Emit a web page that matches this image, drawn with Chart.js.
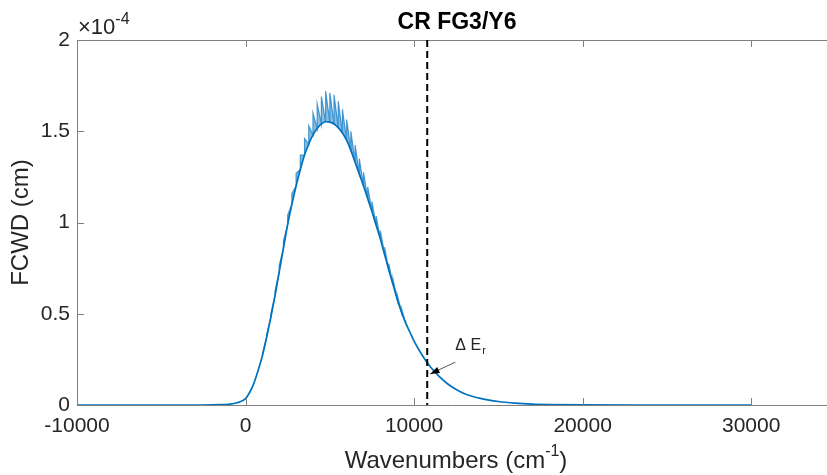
<!DOCTYPE html>
<html>
<head>
<meta charset="utf-8">
<script src="https://cdn.jsdelivr.net/npm/chart.js@4.4.1/dist/chart.umd.min.js"></script>
<style>
  html, body { margin: 0; padding: 0; background: #fff; }
  #wrap { width: 827px; height: 475px; }
</style>
</head>
<body>
<div id="wrap"><canvas id="fcwdChart" width="827" height="475"></canvas></div>
<script>
// values, FCWD in units of 1e-4 cm
const wavenumbers = [-10000, -3000, -2000, -1500, -1000, -500, 0, 250, 500, 750,
  1000, 1250, 1500, 1750, 2000, 2250, 2500, 2750, 3000, 3250, 3500, 3750, 4000, 4250,
  4500, 4750, 5000, 5250, 5500, 5750, 6000, 6250, 6500, 6750, 7000, 7250, 7500, 7750,
  8000, 8250, 8500, 8750, 9000, 9250, 9500, 9750, 10000, 10500, 11000, 11500, 12000,
  12500, 13000, 14000, 15000, 16000, 17000, 18000, 20000, 25000, 30000];
const fcwd = [0, 0, 0.001, 0.002, 0.004, 0.012, 0.035, 0.07, 0.12, 0.19,
  0.27, 0.37, 0.48, 0.60, 0.73, 0.86, 0.99, 1.10, 1.20, 1.29, 1.37, 1.43, 1.48, 1.515,
  1.54, 1.552, 1.55, 1.54, 1.52, 1.49, 1.45, 1.395, 1.33, 1.265, 1.20, 1.13, 1.06, 0.985,
  0.91, 0.825, 0.74, 0.66, 0.58, 0.51, 0.45, 0.40, 0.35, 0.27, 0.205, 0.155, 0.115,
  0.085, 0.062, 0.035, 0.019, 0.010, 0.005, 0.0025, 0.0006, 0, 0];

// oscillation tops over the central band (same wavenumbers, 1000 .. 9500)
const spikeWavenumbers = [1000, 1250, 1500, 1750, 2000, 2250, 2500, 2750, 3000, 3250,
  3500, 3750, 4000, 4250, 4500, 4750, 5000, 5250, 5500, 5750, 6000, 6250, 6500, 6750,
  7000, 7250, 7500, 7750, 8000, 8250, 8500, 8750, 9000, 9250, 9500];
const spikeTops = [0.28, 0.385, 0.50, 0.625, 0.765, 0.90, 1.04, 1.16, 1.27, 1.37,
  1.46, 1.53, 1.60, 1.65, 1.69, 1.72, 1.71, 1.70, 1.665, 1.62, 1.565, 1.50, 1.425, 1.35,
  1.275, 1.195, 1.115, 1.035, 0.955, 0.865, 0.775, 0.69, 0.605, 0.53, 0.465];

const xTicks = [-10000, 0, 10000, 20000, 30000];
const yTicks = [0, 0.5, 1, 1.5, 2];
const cutoffWavenumber = 10780;

const FONT = "'Liberation Sans', Arial, Helvetica, sans-serif";
const AXIS_GRAY = '#808080';
const TEXT = '#262626';
const BLUE = '#0072BD';

const mainPoints = wavenumbers.map((w, i) => ({ x: w, y: fcwd[i] }));
const spikePoints = [];
spikeWavenumbers.forEach((w, i) => {
    const lo = fcwd[wavenumbers.indexOf(w)];
    spikePoints.push({ x: w, y: lo });
    spikePoints.push({ x: w, y: spikeTops[i] });
});

const matlabAxes = {
    id: 'matlabAxes',
    afterDraw(chart) {
        const { ctx, chartArea: a, scales: { x, y } } = chart;
        ctx.save();

        // top box line and inward ticks
        ctx.strokeStyle = AXIS_GRAY;
        ctx.lineWidth = 1;
        ctx.beginPath();
        ctx.moveTo(a.left, a.top + 0.5);
        ctx.lineTo(a.right, a.top + 0.5);
        xTicks.forEach(v => {
            const px = Math.round(x.getPixelForValue(v)) + 0.5;
            ctx.moveTo(px, a.bottom);
            ctx.lineTo(px, a.bottom - 7);
            ctx.moveTo(px, a.top);
            ctx.lineTo(px, a.top + 7);
        });
        yTicks.forEach(v => {
            const py = Math.round(y.getPixelForValue(v)) + 0.5;
            ctx.moveTo(a.left, py);
            ctx.lineTo(a.left + 7, py);
        });
        ctx.stroke();

        // dashed cutoff line
        const cx = x.getPixelForValue(cutoffWavenumber);
        ctx.strokeStyle = '#000';
        ctx.lineWidth = 2;
        ctx.setLineDash([7, 4]);
        ctx.beginPath();
        ctx.moveTo(cx, a.top);
        ctx.lineTo(cx, a.bottom);
        ctx.stroke();
        ctx.setLineDash([]);

        // arrow annotation
        const tipX = x.getPixelForValue(10950), tipY = y.getPixelForValue(0.17);
        const tailX = x.getPixelForValue(12450), tailY = y.getPixelForValue(0.235);
        ctx.strokeStyle = '#555';
        ctx.lineWidth = 1;
        ctx.beginPath();
        ctx.moveTo(tailX, tailY);
        ctx.lineTo(tipX, tipY);
        ctx.stroke();
        const ang = Math.atan2(tipY - tailY, tipX - tailX);
        ctx.fillStyle = '#000';
        ctx.beginPath();
        ctx.moveTo(tipX, tipY);
        ctx.lineTo(tipX - 10 * Math.cos(ang - 0.35), tipY - 10 * Math.sin(ang - 0.35));
        ctx.lineTo(tipX - 10 * Math.cos(ang + 0.35), tipY - 10 * Math.sin(ang + 0.35));
        ctx.closePath();
        ctx.fill();

        ctx.fillStyle = TEXT;
        ctx.textBaseline = 'alphabetic';
        ctx.textAlign = 'left';
        ctx.font = '16px ' + FONT;
        const lx = x.getPixelForValue(12450), ly = y.getPixelForValue(0.3);
        ctx.fillText('\u0394 E', lx, ly);
        const ew = ctx.measureText('\u0394 E').width;
        ctx.font = '11px ' + FONT;
        ctx.fillText('r', lx + ew + 1, ly + 4);

        // exponent label
        ctx.font = '22px ' + FONT;
        ctx.fillText('\u00d710', a.left + 1, a.top - 6);
        const xw = ctx.measureText('\u00d710').width;
        ctx.font = '16px ' + FONT;
        ctx.fillText('-4', a.left + 1 + xw, a.top - 16);

        // title
        ctx.textAlign = 'center';
        ctx.font = 'bold 23px ' + FONT;
        ctx.fillStyle = '#000';
        ctx.fillText('CR FG3/Y6', 457, 29);

        // x axis title
        ctx.fillStyle = TEXT;
        ctx.font = '24px ' + FONT;
        const t1 = 'Wavenumbers (cm', sup = '-1', t2 = ')';
        const w1 = ctx.measureText(t1).width, w3 = ctx.measureText(t2).width;
        ctx.font = '16px ' + FONT;
        const w2 = ctx.measureText(sup).width;
        let sx = 456 - (w1 + w2 + w3) / 2;
        ctx.textAlign = 'left';
        ctx.font = '24px ' + FONT;
        ctx.fillText(t1, sx, 468);
        ctx.font = '16px ' + FONT;
        ctx.fillText(sup, sx + w1, 456);
        ctx.font = '24px ' + FONT;
        ctx.fillText(t2, sx + w1 + w2, 468);

        // y axis title
        ctx.save();
        ctx.translate(28, (a.top + a.bottom) / 2);
        ctx.rotate(-Math.PI / 2);
        ctx.textAlign = 'center';
        ctx.fillText('FCWD (cm)', 0, 0);
        ctx.restore();

        ctx.restore();
    }
};

new Chart(document.getElementById('fcwdChart'), {
    type: 'line',
    data: {
        datasets: [
            {
                data: mainPoints,
                borderColor: BLUE,
                borderWidth: 1.7,
                pointRadius: 0,
                cubicInterpolationMode: 'monotone',
                fill: false
            },
            {
                data: spikePoints,
                borderColor: 'rgba(20,125,200,0.75)',
                backgroundColor: 'rgba(20,125,200,0.5)',
                borderWidth: 1.2,
                pointRadius: 0,
                tension: 0,
                fill: { target: 0 }
            }
        ]
    },
    options: {
        responsive: false,
        animation: false,
        events: [],
        layout: { padding: { top: 40, right: 0, left: 0, bottom: 0 } },
        plugins: {
            legend: { display: false },
            tooltip: { enabled: false },
            title: { display: false },
            filler: { propagate: false }
        },
        scales: {
            x: {
                type: 'linear',
                min: -10000,
                max: 34500,
                afterBuildTicks: s => { s.ticks = xTicks.map(v => ({ value: v })); },
                afterFit: s => { s.height = 70; },
                grid: { display: false, drawTicks: false },
                border: { display: true, color: AXIS_GRAY, width: 1 },
                ticks: {
                    color: TEXT,
                    font: { family: FONT, size: 21 },
                    padding: 9,
                    maxRotation: 0,
                    autoSkip: false,
                    callback: v => String(v)
                }
            },
            y: {
                type: 'linear',
                min: 0,
                max: 2,
                afterBuildTicks: s => { s.ticks = yTicks.map(v => ({ value: v })); },
                afterFit: s => { s.width = 77; },
                grid: { display: false, drawTicks: false },
                border: { display: true, color: AXIS_GRAY, width: 1 },
                ticks: {
                    color: TEXT,
                    font: { family: FONT, size: 21 },
                    padding: 7,
                    callback: v => String(v)
                }
            }
        }
    },
    plugins: [matlabAxes]
});
</script>
</body>
</html>
